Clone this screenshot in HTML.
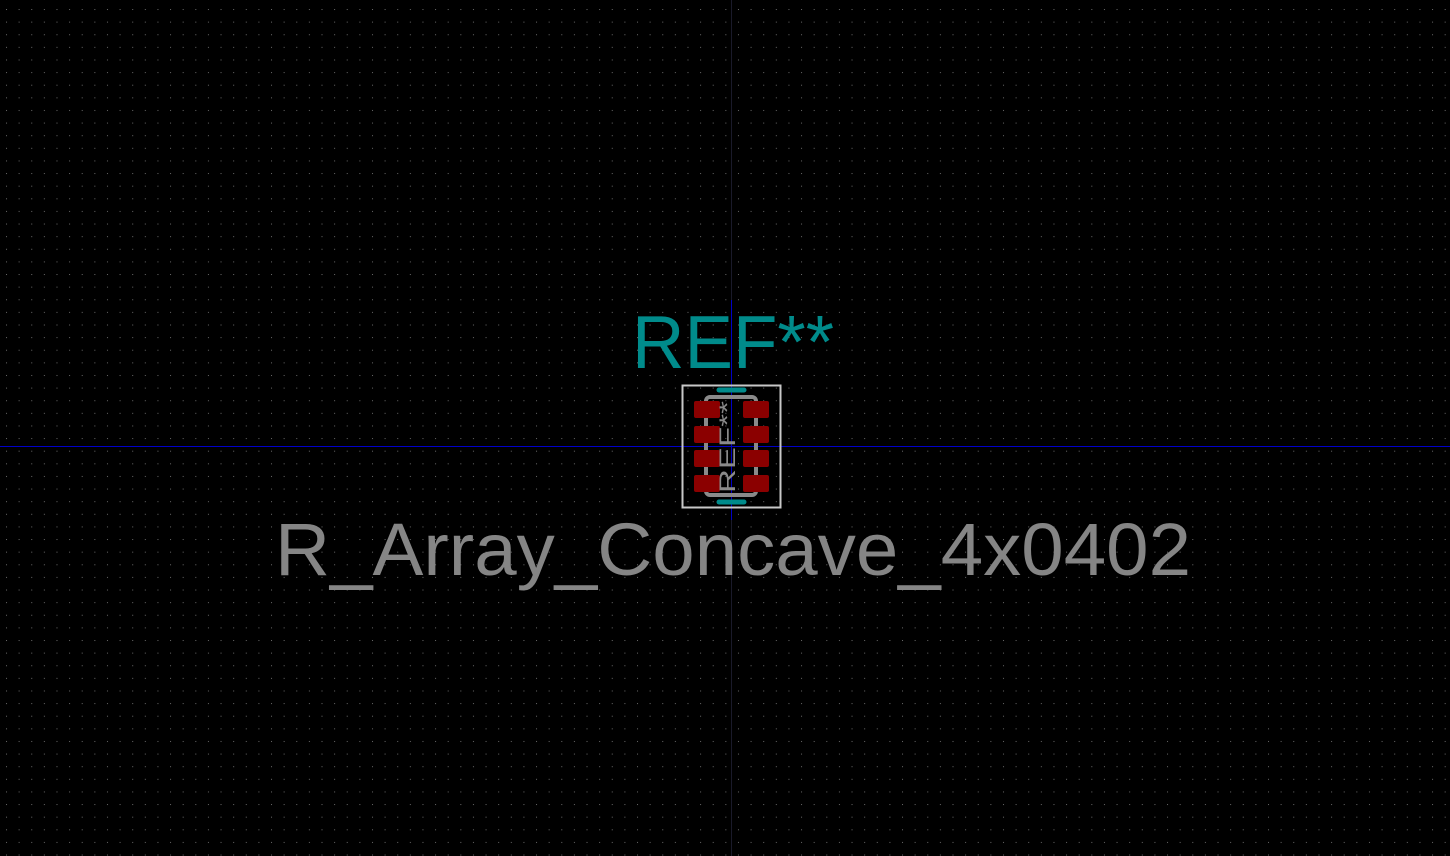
<!DOCTYPE html>
<html><head><style>
html,body{margin:0;padding:0;background:#000;}
svg{display:block;}
</style></head><body>
<svg width="1450" height="856" viewBox="0 0 1450 856" xmlns="http://www.w3.org/2000/svg">
<defs>
<pattern id="g" x="6" y="9" width="12.62" height="12.62" patternUnits="userSpaceOnUse">
<rect x="0" y="0" width="1" height="1" fill="#6a6a6a"/>
</pattern>
</defs>
<rect width="1450" height="856" fill="#000"/>
<rect width="1450" height="856" fill="url(#g)"/>
<line x1="731.5" y1="0" x2="731.5" y2="856" stroke="#1a1a2a" stroke-width="1"/>
<line x1="0" y1="446.5" x2="1450" y2="446.5" stroke="#0000c8" stroke-width="1"/>
<line x1="731.5" y1="300" x2="731.5" y2="520" stroke="#0000c8" stroke-width="1"/>
<!-- courtyard -->
<rect x="682.5" y="385.5" width="98" height="122" fill="none" stroke="#c8c8c8" stroke-width="2"/>
<!-- silk outline -->
<rect x="706" y="397" width="50" height="98" rx="4" fill="none" stroke="#8a8a8a" stroke-width="4"/>
<!-- teal ovals -->
<line x1="719" y1="390" x2="744" y2="390" stroke="#008b8b" stroke-width="5" stroke-linecap="round"/>
<line x1="719" y1="502" x2="744" y2="502" stroke="#008b8b" stroke-width="5" stroke-linecap="round"/>
<!-- pads -->
<g fill="#8b0000">
<rect x="694" y="401" width="26" height="17" rx="2"/>
<rect x="743" y="401" width="26" height="17" rx="2"/>
<rect x="694" y="426" width="26" height="17" rx="2"/>
<rect x="743" y="426" width="26" height="17" rx="2"/>
<rect x="694" y="450" width="26" height="17" rx="2"/>
<rect x="743" y="450" width="26" height="17" rx="2"/>
<rect x="694" y="475" width="26" height="17" rx="2"/>
<rect x="743" y="475" width="26" height="17" rx="2"/>
</g>
<text x="0" y="0" transform="translate(735,493) rotate(-90)" font-family="Liberation Sans, sans-serif" font-size="22" fill="#8a8a8a" textLength="92" lengthAdjust="spacingAndGlyphs">REF**</text>
<text x="632" y="368" font-family="Liberation Sans, sans-serif" font-size="75" fill="#008b8b" textLength="202" lengthAdjust="spacingAndGlyphs">REF**</text>
<text x="275" y="575" font-family="Liberation Sans, sans-serif" font-size="74" fill="#858585" textLength="916" lengthAdjust="spacingAndGlyphs">R_Array_Concave_4x0402</text>
</svg>
</body></html>
